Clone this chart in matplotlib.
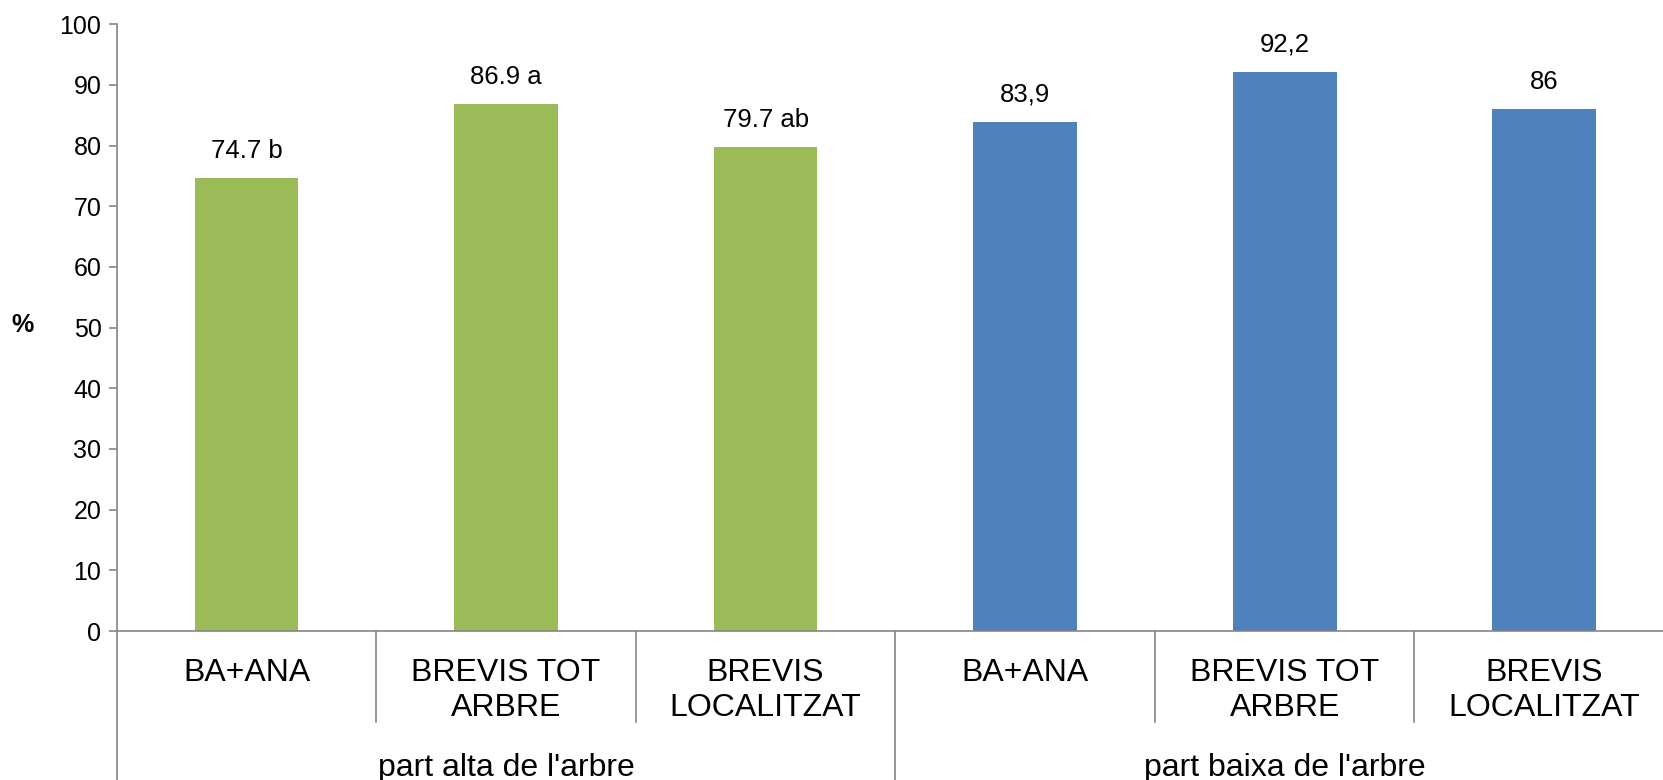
import matplotlib
matplotlib.use("Agg")
import matplotlib.pyplot as plt
import matplotlib.transforms as mtransforms
import numpy as np

plt.rcParams['font.family'] = ['Liberation Sans', 'DejaVu Sans']

# data
groups = ["part alta de l'arbre", "part baixa de l'arbre"]
categories = ["BA+ANA", "BREVIS TOT\nARBRE", "BREVIS\nLOCALITZAT",
              "BA+ANA", "BREVIS TOT\nARBRE", "BREVIS\nLOCALITZAT"]
values = [74.7, 86.9, 79.7, 83.9, 92.2, 86.0]
bar_labels = ["74.7 b", "86.9 a", "79.7 ab", "83,9", "92,2", "86"]
group_of_bar = [0, 0, 0, 1, 1, 1]
group_colors = ["#9BBB59", "#4F81BD"]

axis_gray = "#868686"

fig = plt.figure(figsize=(16.63, 7.80), dpi=100)
ax = fig.add_axes([0.0702, 0.191, 0.9364, 0.778])

x = np.arange(len(values))
colors = [group_colors[g] for g in group_of_bar]
bars = ax.bar(x, values, width=0.4, color=colors, zorder=2)

for xi, v, lab in zip(x, values, bar_labels):
    ax.annotate(lab, (xi, v), xytext=(0, 19.5), textcoords="offset points",
                ha="center", va="center", fontsize=18.5)

ax.set_xlim(-0.5, len(values) - 0.5)
ax.set_ylim(0, 100)
ax.set_yticks(np.arange(0, 101, 10))
ax.tick_params(axis="y", direction="out", length=6, width=1.2, color=axis_gray,
               labelsize=18, pad=5)
ax.set_xticks([])

for s in ["top", "right"]:
    ax.spines[s].set_visible(False)
ax.spines["left"].set_color(axis_gray)
ax.spines["bottom"].set_color(axis_gray)
ax.spines["left"].set_linewidth(1.2)
ax.spines["bottom"].set_linewidth(1.2)

ax.set_ylabel("%", rotation=0, fontsize=18, fontweight="bold", va="center")
ax.yaxis.set_label_coords(-0.0605, 0.505)

trans = mtransforms.blended_transform_factory(ax.transData, ax.transAxes)

# category separators
for b in np.arange(-0.5, len(values), 1.0):
    if b in (-0.5, 2.5, 5.5):
        y_end = -0.26
    else:
        y_end = -0.15
    ax.plot([b, b], [0, y_end], transform=trans, color=axis_gray, lw=1.2,
            clip_on=False)

# category labels
for xi, cat in zip(x, categories):
    ax.text(xi, -0.045, cat, transform=trans, ha="center", va="top",
            fontsize=23, linespacing=1.21)

# group labels
for gi, g in enumerate(groups):
    cx = np.mean([xi for xi, gb in zip(x, group_of_bar) if gb == gi])
    ax.text(cx, -0.225, g, transform=trans, ha="center", va="center", fontsize=23)

fig.savefig("out.png", dpi=100)
